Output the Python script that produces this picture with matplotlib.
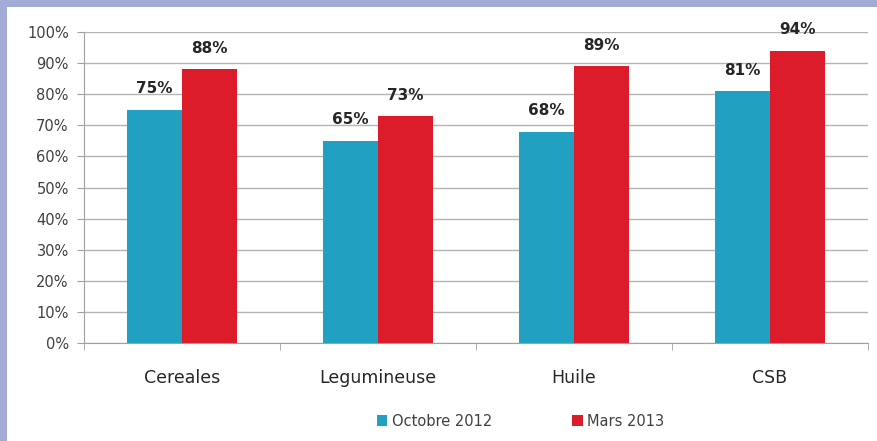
import numpy as np
import matplotlib.pyplot as plt
from matplotlib.patches import Rectangle
from matplotlib.ticker import FixedLocator, PercentFormatter

# Data
categories = ["Cereales", "Legumineuse", "Huile", "CSB"]
octobre_2012 = [75, 65, 68, 81]
mars_2013 = [88, 73, 89, 94]
series_names = ["Octobre 2012", "Mars 2013"]

blue = "#22a0c2"
red = "#dc1c2a"

fig = plt.figure(figsize=(8.78, 4.41), dpi=100, facecolor="#a3acd6")
# white inner panel (border visible on top and left)
panel = Rectangle((7 / 878, 0), 1, (441 - 7) / 441, transform=fig.transFigure,
                  facecolor="white", edgecolor="none", zorder=-10)
fig.add_artist(panel)

ax = fig.add_axes([84 / 878, (441 - 343) / 441, 784 / 878, 311 / 441])
ax.set_zorder(2)
ax.set_facecolor("none")

x = np.arange(len(categories))
w = 0.28
b1 = ax.bar(x - w / 2, octobre_2012, w, color=blue, label=series_names[0], zorder=3)
b2 = ax.bar(x + w / 2, mars_2013, w, color=red, label=series_names[1], zorder=3)

for bars, vals in [(b1, octobre_2012), (b2, mars_2013)]:
    for r, v in zip(bars, vals):
        ax.text(r.get_x() + r.get_width() / 2, v + 4.3, f"{v}%", ha="center", va="bottom",
                fontsize=11, fontweight="bold", color="#262626")

ax.set_xlim(-0.5, len(categories) - 0.5)
ax.set_ylim(0, 100)
ax.set_yticks(np.arange(0, 101, 10))
ax.yaxis.set_major_formatter(PercentFormatter(decimals=0))
ax.grid(axis="y", color="#b4b4b4", linewidth=1, zorder=0)

ax.set_xticks(x)
ax.set_xticklabels(categories, fontsize=12.5, color="#262626")
ax.xaxis.set_minor_locator(FixedLocator(np.arange(-0.5, len(categories), 1)))
ax.tick_params(axis="x", which="major", length=0, pad=19)
ax.tick_params(axis="x", which="minor", length=5, color="#a0a0a0")
ax.tick_params(axis="y", length=5, color="#a0a0a0", labelsize=10.5, labelcolor="#404040", pad=6)

for s in ["top", "right"]:
    ax.spines[s].set_visible(False)
for s in ["left", "bottom"]:
    ax.spines[s].set_color("#a0a0a0")

leg = fig.legend(handles=[b1, b2], labels=series_names, loc="center",
                 bbox_to_anchor=(0.593, (441 - 421) / 441),
                 ncol=2, frameon=False, fontsize=10.5, handlelength=0.7, handleheight=0.7,
                 handletextpad=0.3, columnspacing=5.5, labelcolor="#404040")
leg.set_zorder(3)

fig.savefig("out.png", dpi=100, facecolor=fig.get_facecolor())
